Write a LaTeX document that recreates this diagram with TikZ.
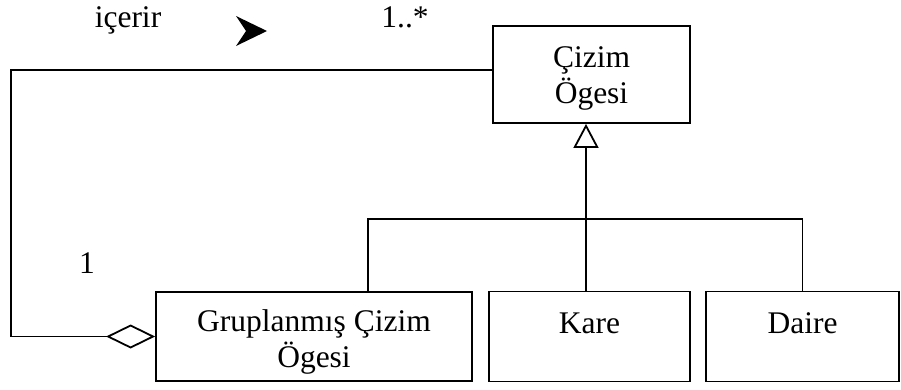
\documentclass[tikz,border=0pt]{standalone}
\usepackage{fontspec}
\setmainfont{Liberation Serif}
\usetikzlibrary{arrows.meta}

\tikzset{
  cls/.style={draw, line width=1.8pt, inner sep=0pt, align=center},
  link/.style={line width=1.8pt},
}

\begin{document}
\begin{tikzpicture}[x=1pt,y=-1pt,font=\fontsize{31.5}{36}\selectfont]
\useasboundingbox (0,0) rectangle (901,389);

% ---- layout parameters ----
\def\xLoop{11}    % x of the left return line
\def\yBus{219}    % y of the generalisation bus
\def\xHub{586}    % x of the trunk under the triangle
\def\xGrp{368}    % x where the bus drops to the group box

% Classes
\node[cls, minimum width=197pt, minimum height=97pt, text height=64pt, text depth=7pt] (cizim) at (591.5,74.5) {Çizim\\Ögesi};
\node[cls, minimum width=316pt, minimum height=89pt, text height=68pt, text depth=7pt] (grup) at (314,336.5) {Gruplanmış Çizim\\Ögesi};
\node[cls, minimum width=201pt, minimum height=90pt, text height=21pt, text depth=28pt] (kare) at (589.5,336.5) {Kare};
\node[cls, minimum width=193pt, minimum height=90pt, text height=21pt, text depth=28pt] (daire) at (802.5,336.5) {Daire};

% Generalisation
\coordinate (hub) at (\xHub,\yBus);
\coordinate (bus) at (\xGrp,\yBus);
\draw[link, -{Triangle[open, length=24pt, width=25pt]}] (kare.north -| hub) -- (hub) -- (cizim.south -| hub);
\draw[link] (grup.north -| bus) -- (bus) -| (daire.north);

% Aggregation (group contains elements)
\coordinate (loop) at (\xLoop,200);
\draw[link, {Diamond[open, length=49pt, width=24pt]}-] (grup.west) -| (loop) |- ([yshift=4.5pt]cizim.west);

% Role name, direction and multiplicities
\node[anchor=base] (rolename) at (128,27) {içerir};
\fill (236,16) -- (267,31) -- (236,46) -- (246,31) -- cycle;
\node[anchor=base] (multmany) at (405,27) {1..*};
\node[anchor=base] (multone) at (87,273) {1};

\end{tikzpicture}
\end{document}
